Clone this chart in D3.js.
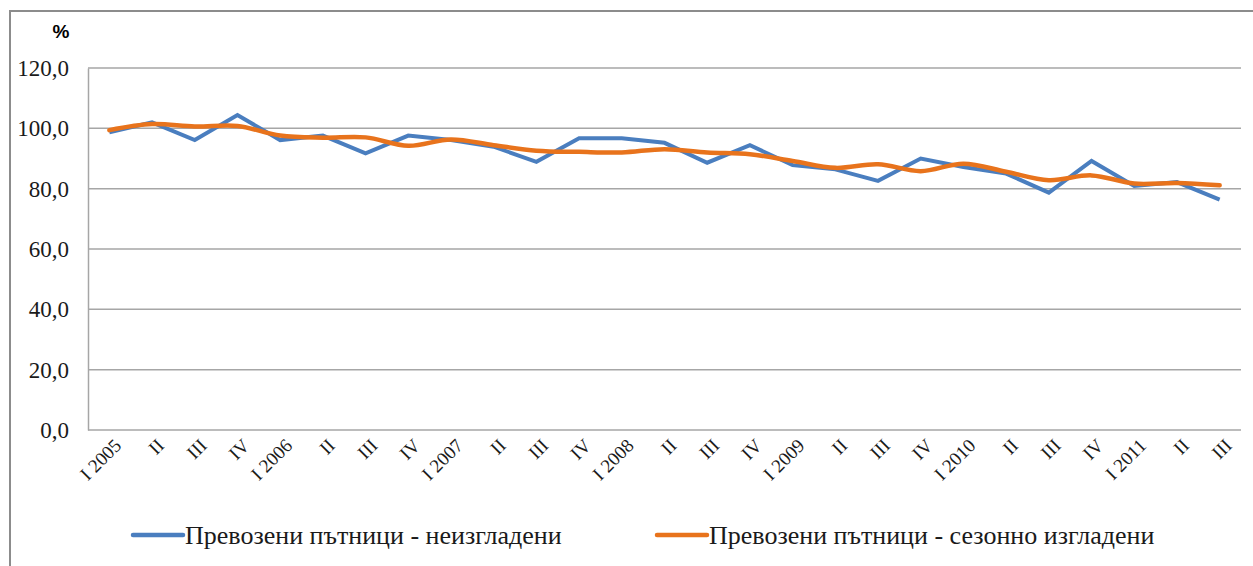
<!DOCTYPE html>
<html>
<head>
<meta charset="utf-8">
<script src="https://cdn.jsdelivr.net/npm/d3@7"></script>
<style>
	body { margin: 0; background: #fff; }
	svg { display: block; }
	.serif { font-family: "Liberation Serif", "Times New Roman", serif; fill: #1a1a1a; }
</style>
</head>
<body>
<svg width="1253" height="566"></svg>
<script>
const categories = ["I 2005", "II", "III", "IV", "I 2006", "II", "III", "IV", "I 2007", "II", "III", "IV",
	"I 2008", "II", "III", "IV", "I 2009", "II", "III", "IV", "I 2010", "II", "III", "IV", "I 2011", "II", "III"];
const raw = [98.7, 102.0, 96.1, 104.4, 96.1, 97.6, 91.7, 97.6, 96.1, 93.9, 88.9, 96.7, 96.7, 95.2,
	88.6, 94.4, 87.8, 86.4, 82.6, 90.0, 87.2, 85.0, 78.7, 89.2, 80.9, 82.2, 76.4];
const smoothed = [99.4, 101.4, 100.6, 100.8, 97.6, 96.9, 97.0, 94.2, 96.3, 94.4, 92.6, 92.2, 92.0, 93.1,
	92.0, 91.4, 89.2, 86.9, 88.1, 85.8, 88.3, 85.6, 82.8, 84.4, 81.7, 81.9, 81.1];
const yTicks = [0, 20, 40, 60, 80, 100, 120];
const seriesNames = ["Превозени пътници - неизгладени", "Превозени пътници - сезонно изгладени"];
const colors = ["#4a7ebf", "#e8731c"];

const svg = d3.select("svg");

// outer frame (right and bottom edges fall outside the picture)
svg.append("rect")
	.attr("x", 10).attr("y", 11)
	.attr("width", 1260).attr("height", 580)
	.attr("fill", "none").attr("stroke", "#8c8c8c").attr("stroke-width", 2);

const margin = { top: 68, left: 88, right: 12, bottom: 136 };
const innerWidth = 1253 - margin.left - margin.right;
const innerHeight = 566 - margin.top - margin.bottom;

const xScale = d3.scalePoint().domain(d3.range(categories.length)).range([0, innerWidth]).padding(0.5);
const yScale = d3.scaleLinear().domain([0, 120]).range([innerHeight, 0]);

const g = svg.append("g").attr("transform", `translate(${margin.left}, ${margin.top})`);

// gridlines
g.selectAll(".grid")
	.data(yTicks)
	.enter()
	.append("line")
	.attr("x1", 0).attr("x2", innerWidth)
	.attr("y1", (d) => yScale(d)).attr("y2", (d) => yScale(d))
	.attr("stroke", "#a6a6a6").attr("stroke-width", 1.5);

// y axis
const yAxis = g.append("g").call(d3.axisLeft(yScale).tickValues(yTicks).tickSize(0).tickPadding(19)
	.tickFormat((d) => d3.format(".1f")(d).replace(".", ",")));
yAxis.attr("font-family", null).attr("font-size", null);
yAxis.select(".domain").attr("stroke", "#a6a6a6").attr("stroke-width", 1.5);
yAxis.selectAll("text").attr("class", "serif").attr("font-size", 23).attr("dy", "0.33em");

// x axis
const xAxis = g.append("g").attr("transform", `translate(0, ${innerHeight})`)
	.call(d3.axisBottom(xScale).tickSize(0).tickFormat((i) => categories[i]));
xAxis.attr("font-family", null).attr("font-size", null);
xAxis.select(".domain").remove();
xAxis.selectAll("text")
	.attr("class", "serif").attr("font-size", 19)
	.attr("text-anchor", "end")
	.attr("dy", "0.35em")
	.attr("transform", "translate(8, 12) rotate(-45)")
	.attr("x", 0).attr("y", 0);

// lines
const lineRaw = d3.line().x((d, i) => xScale(i)).y((d) => yScale(d));
const lineSmooth = d3.line().x((d, i) => xScale(i)).y((d) => yScale(d)).curve(d3.curveCardinal.tension(0));

g.append("path").datum(raw)
	.attr("d", lineRaw)
	.attr("fill", "none").attr("stroke", colors[0]).attr("stroke-width", 4);
g.append("path").datum(smoothed)
	.attr("d", lineSmooth)
	.attr("fill", "none").attr("stroke", colors[1]).attr("stroke-width", 4.5)
	.attr("stroke-linecap", "round");

// % label
svg.append("text")
	.attr("x", 61).attr("y", 38)
	.attr("text-anchor", "middle")
	.attr("font-family", "'Liberation Sans', Arial, sans-serif")
	.attr("font-weight", "bold").attr("font-size", 19)
	.text("%");

// legend
const legendX = [133, 657];
const legend = svg.selectAll(".legend")
	.data(seriesNames)
	.enter()
	.append("g")
	.attr("transform", (d, i) => `translate(${legendX[i]}, 535)`);
legend.append("line")
	.attr("x1", 0).attr("x2", 50).attr("y1", 0).attr("y2", 0)
	.attr("stroke", (d, i) => colors[i]).attr("stroke-width", 4.5).attr("stroke-linecap", "round");
legend.append("text")
	.attr("class", "serif")
	.attr("x", 52).attr("y", 0).attr("dy", "0.33em")
	.attr("font-size", 26)
	.text((d) => d);
</script>
</body>
</html>
